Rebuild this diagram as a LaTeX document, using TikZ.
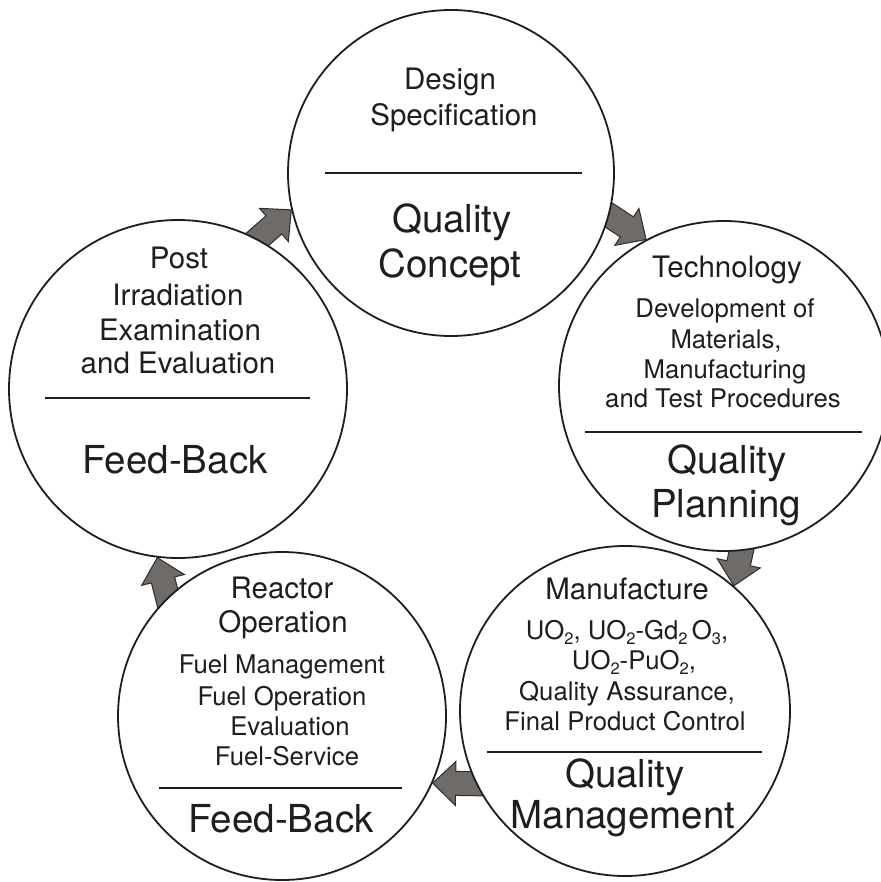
\documentclass[tikz,border=0pt]{standalone}
\usepackage{fontspec}
\setmainfont{TeX Gyre Heros}
\usetikzlibrary{calc}
\pgfdeclarelayer{background}
\pgfsetlayers{background,main}
\definecolor{ink}{HTML}{1E1E1E}
\definecolor{arrowgray}{HTML}{6F6B68}
\definecolor{arrowedge}{HTML}{2E2C2B}
\newcommand\sbx[1]{\raisebox{-5pt}{\fontsize{16.5}{16.5}\selectfont #1}}
\tikzset{
  ring/.style={circle, draw=ink, line width=1.8pt, fill=white, inner sep=0pt},
  divider/.style={draw=ink, line width=1.4pt},
  arrowshape/.style={fill=arrowgray, draw=arrowedge, line width=1pt, line join=miter},
  lbl/.style={anchor=base, inner sep=0pt, text=ink},
  hd/.style={lbl, font=\fontsize{29.5}{32}\selectfont},
  dt/.style={lbl, font=\fontsize{25.7}{28}\selectfont},
  big/.style={lbl, font=\fontsize{38.5}{42}\selectfont}
}
\newcommand\blockarrow[2]{%
  \coordinate (bt) at ($(#1)!-10pt!(#2)$);
  \coordinate (bh) at ($(#2)!23pt!(#1)$);
  \path[arrowshape] ($(bt)!12pt!90:(#2)$) -- ($(bh)!12pt!90:(#2)$) --
    ($(bh)!22pt!90:(#2)$) -- (#2) -- ($(bh)!22pt!-90:(#2)$) --
    ($(bh)!12pt!-90:(#2)$) -- ($(bt)!12pt!-90:(#2)$) -- cycle;
}
\begin{document}
\begin{tikzpicture}[x=1pt, y=-1pt]
\useasboundingbox (0,0) rectangle (880,882);

% circles
\node[ring, minimum size=326pt] (c1) at (451,173) {};
\node[ring, minimum size=330pt] (c2) at (724,386) {};
\node[ring, minimum size=330pt] (c3) at (625,711) {};
\node[ring, minimum size=328pt] (c4) at (282,716) {};
\node[ring, minimum size=338pt] (c5) at (178,389) {};

% arrow end points
\coordinate (a1t) at (c5.62);  \coordinate (a1h) at (c1.193);
\coordinate (a2t) at (c1.345); \coordinate (a2h) at (c2.118);
\coordinate (a3t) at (c2.276); \coordinate (a3h) at (c3.49);
\coordinate (a4t) at (c3.206); \coordinate (a4h) at (c4.336);
\coordinate (a5t) at (c4.134); \coordinate (a5h) at (c5.263);

\begin{pgfonlayer}{background}
\fill[white] (0,0) rectangle (880,882);
\blockarrow{a1t}{a1h}
\blockarrow{a2t}{a2h}
\blockarrow{a3t}{a3h}
\blockarrow{a4t}{a4h}
\blockarrow{a5t}{a5h}
\end{pgfonlayer}

% dividers
\draw[divider] ($(c1.center)+(-126,0)$) -- ($(c1.center)+(131,0)$);
\draw[divider] ($(c2.center)+(-139,46)$) -- ($(c2.center)+(138,46)$);
\draw[divider] ($(c3.center)+(-138,41)$) -- ($(c3.center)+(137,41)$);
\draw[divider] ($(c4.center)+(-123,72)$) -- ($(c4.center)+(120,72)$);
\draw[divider] ($(c5.center)+(-133,9)$) -- ($(c5.center)+(132,9)$);

% top circle
\node[hd] (t11) at (450,90) {Design};
\node[hd] (t12) at (454,126) {Specification};
\node[big] (t13) at (452,233) {Quality};
\node[big] (t14) at (450,277) {Concept};

% right circle
\node[hd] (t21) at (727,277) {Technology};
\node[dt] (t22) at (725,317) {Development of};
\node[dt] (t23) at (726,348) {Materials,};
\node[dt] (t24) at (725,378) {Manufacturing};
\node[dt] (t25) at (723,407) {and Test Procedures};
\node[big] (t26) at (727,473) {Quality};
\node[big] (t27) at (726,517) {Planning};

% bottom right circle
\node[hd] (t31) at (627,599) {Manufacture};
\node[dt] (t32) at (627,639) {UO\sbx{2}, UO\sbx{2}-Gd\sbx{2}\,O\sbx{3},};
\node[dt] (t33) at (634,669) {UO\sbx{2}-PuO\sbx{2},};
\node[dt] (t34) at (627,700) {Quality Assurance,};
\node[dt] (t35) at (625,730) {Final Product Control};
\node[big] (t36) at (625,787) {Quality};
\node[big] (t37) at (623,828) {Management};

% bottom left circle
\node[hd] (t41) at (282,598) {Reactor};
\node[hd] (t42) at (283,632) {Operation};
\node[dt] (t43) at (282,673) {Fuel Management};
\node[dt] (t44) at (282,705) {Fuel Operation};
\node[dt] (t45) at (290,735) {Evaluation};
\node[dt] (t46) at (287,765) {Fuel-Service};
\node[big] (t47) at (281,832) {Feed-Back};

% left circle
\node[hd] (t51) at (179,269) {Post};
\node[hd] (t52) at (178,305) {Irradiation};
\node[hd] (t53) at (180,340) {Examination};
\node[hd] (t54) at (178,373) {and Evaluation};
\node[big] (t55) at (175,473) {Feed-Back};
\end{tikzpicture}
\end{document}
